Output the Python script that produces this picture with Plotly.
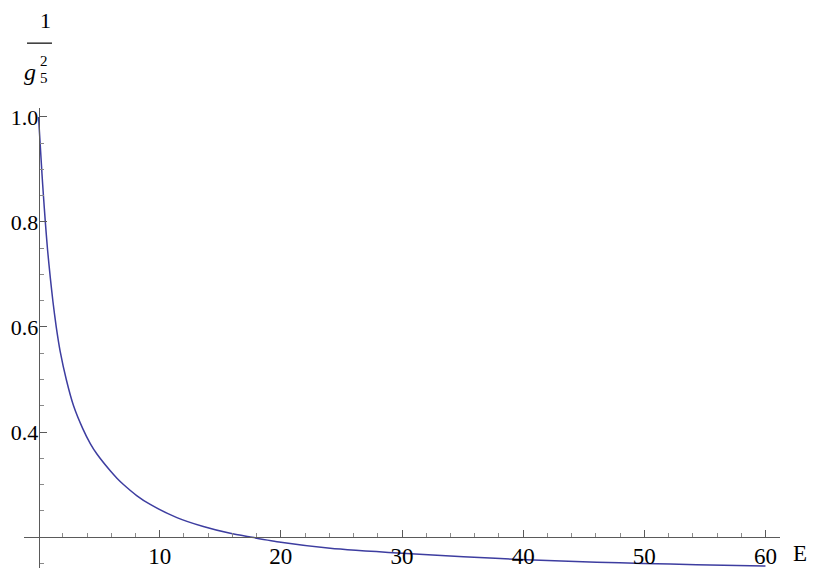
import plotly.graph_objects as go

# Curve
E_VALUES = [0.0, 0.28, 0.41, 0.55, 0.74, 0.97, 1.19, 1.46, 1.79, 2.29, 2.89, 3.66,
            4.27, 4.82, 5.92, 6.47, 7.01, 8.1, 9.22, 11.42, 13.6, 15.82, 17.47, 20.0,
            24.07, 30.0, 35.07, 40.3, 46.07, 49.9, 54.3, 60.0]
INV_G2 = [1.0, 0.893, 0.848, 0.803, 0.748, 0.694, 0.648, 0.600, 0.553, 0.500, 0.450, 0.406,
          0.378, 0.358, 0.326, 0.312, 0.300, 0.279, 0.262, 0.237, 0.220, 0.207, 0.200,
          0.190, 0.1785, 0.169, 0.1626, 0.1565, 0.152, 0.1497, 0.1473, 0.1448]

X_TICKS = [10, 20, 30, 40, 50, 60]
X_MINOR = [2, 4, 6, 8, 12, 14, 16, 18, 22, 24, 26, 28, 32, 34, 36, 38,
           42, 44, 46, 48, 52, 54, 56, 58]
Y_TICKS = [0.4, 0.6, 0.8, 1.0]
Y_MINOR = [0.15, 0.25, 0.3, 0.35, 0.45, 0.5, 0.55, 0.65, 0.7, 0.75, 0.85, 0.9, 0.95]

X_RANGE = [-1.2, 61.2]
Y_RANGE = [0.141, 1.017]
AXIS_CROSS_Y = 0.2

CURVE_COLOR = "#3d3da0"
AXIS_COLOR = "#5a5a5a"
FONT = "Liberation Serif, Times New Roman, serif"

fig = go.Figure()

fig.add_trace(go.Scatter(
    x=E_VALUES,
    y=INV_G2,
    mode="lines",
    line=dict(color=CURVE_COLOR, width=1.5, shape="spline", smoothing=0.6),
    showlegend=False,
    hoverinfo="skip",
))

x_pos = (0 - X_RANGE[0]) / (X_RANGE[1] - X_RANGE[0])
y_pos = (AXIS_CROSS_Y - Y_RANGE[0]) / (Y_RANGE[1] - Y_RANGE[0])

# the page body keeps its default 8px margin, so the figure is sized to fit inside it
fig.update_layout(
    width=809,
    height=560,
    paper_bgcolor="white",
    plot_bgcolor="white",
    margin=dict(l=16, r=37, t=100, b=0, autoexpand=False),
    font=dict(family=FONT, color="black", size=23),
    xaxis=dict(
        range=X_RANGE,
        anchor="free",
        position=y_pos,
        automargin=False,
        showline=True,
        linecolor=AXIS_COLOR,
        linewidth=1,
        showgrid=False,
        zeroline=False,
        tickmode="array",
        tickvals=X_TICKS,
        ticks="inside",
        ticklen=7,
        tickcolor=AXIS_COLOR,
        ticklabelstandoff=-2,
        tickfont=dict(family=FONT, size=23, color="black"),
        minor=dict(tickvals=X_MINOR, ticks="inside", ticklen=4, tickcolor="#8a8a8a"),
    ),
    yaxis=dict(
        range=Y_RANGE,
        anchor="free",
        position=x_pos,
        automargin=False,
        showline=True,
        linecolor=AXIS_COLOR,
        linewidth=1,
        showgrid=False,
        zeroline=False,
        tickmode="array",
        tickvals=Y_TICKS,
        tickformat=".1f",
        ticks="inside",
        ticklen=7,
        tickcolor=AXIS_COLOR,
        ticklabelstandoff=-4,
        tickfont=dict(family=FONT, size=22, color="black"),
        minor=dict(tickvals=Y_MINOR, ticks="inside", ticklen=4, tickcolor="#8a8a8a"),
    ),
)

# Axis labels: "E" and the fraction 1/g_5^2
fig.add_annotation(text="E", x=1.0, xref="paper", xanchor="center", xshift=20,
                   y=AXIS_CROSS_Y, yref="y", yshift=-16, showarrow=False,
                   font=dict(family=FONT, size=23))

fig.add_annotation(text="1", x=0.019, xref="paper", y=1, yref="paper", yshift=102,
                   showarrow=False, font=dict(family=FONT, size=22))
fig.add_shape(type="line", xref="paper", yref="paper", x0=0.004, x1=0.037,
              y0=1.141, y1=1.141, line=dict(color="black", width=1.2))
fig.add_annotation(text="<i>g</i>", x=0.018, xref="paper", xanchor="right", y=1,
                   yref="paper", yshift=51, showarrow=False, font=dict(family=FONT, size=24))
fig.add_annotation(text="2", x=0.019, xref="paper", xanchor="left", y=1, yref="paper",
                   yshift=57, showarrow=False, font=dict(family=FONT, size=15))
fig.add_annotation(text="5", x=0.019, xref="paper", xanchor="left", y=1, yref="paper",
                   yshift=40, showarrow=False, font=dict(family=FONT, size=15))

fig.write_html("out.html")
